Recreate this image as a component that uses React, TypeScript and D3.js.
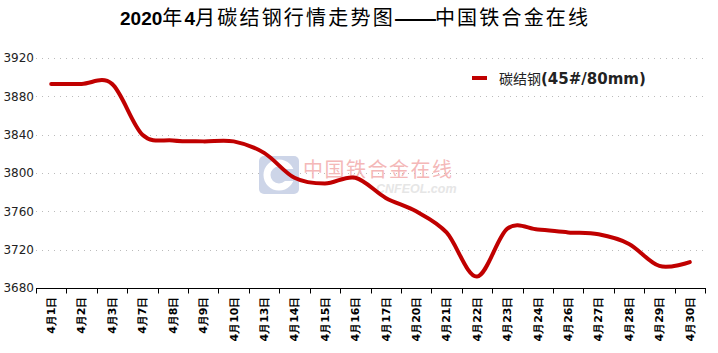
import React, { useEffect, useRef } from 'react';
import * as d3 from 'd3';

const categories = ['4月1日', '4月2日', '4月3日', '4月7日', '4月8日', '4月9日', '4月10日', '4月13日', '4月14日', '4月15日', '4月16日',
  '4月17日', '4月20日', '4月21日', '4月22日', '4月23日', '4月24日', '4月26日', '4月27日', '4月28日', '4月29日', '4月30日'];
const prices = [3893, 3893, 3893, 3840, 3834, 3833, 3833, 3821, 3795, 3789, 3795,
  3774, 3760, 3738, 3692, 3742, 3741, 3738, 3736, 3726, 3703, 3707];
const yTicks = [3680, 3720, 3760, 3800, 3840, 3880, 3920];
const seriesName = ['碳结钢', '(45#/80mm)'];
const titleParts = [
  { t: '2020', kind: 'latin' },
  { t: '年', kind: 'cjk' },
  { t: '4', kind: 'latin' },
  { t: '月碳结钢行情走势图', kind: 'cjk' },
  { t: '——', kind: 'dash' },
  { t: '中国铁合金在线', kind: 'cjk' },
];

const App = () => {
  const ref = useRef<HTMLDivElement>(null);

  useEffect(() => {
    const width = 718;
    const height = 353;
    const left = 36, right = 705, top = 58, bottom = 288;
    const font = '"DejaVu Sans", Verdana, sans-serif';
    const cjk = '"Noto Sans CJK SC", sans-serif';

    const svg = d3.select(ref.current)
      .append('svg')
      .attr('width', width)
      .attr('height', height)
      .style('display', 'block')
      .style('font-family', font);

    svg.append('rect').attr('width', width).attr('height', height).attr('fill', '#fff');

    const x = d3.scaleBand().domain(categories).range([left, right]).padding(0);
    const y = d3.scaleLinear().domain([3680, 3920]).range([bottom, top]);

    // title
    const title = svg.append('text')
      .attr('x', 120)
      .attr('y', 25)
      .attr('fill', '#000');
    titleParts.forEach((p) => {
      const s = title.append('tspan').text(p.t);
      if (p.kind === 'latin') {
        s.attr('font-family', '"Liberation Sans", Arial, sans-serif')
          .attr('font-weight', 'bold')
          .attr('font-size', '19px');
      } else if (p.kind === 'dash') {
        s.attr('font-family', '"Liberation Sans", Arial, sans-serif')
          .attr('font-weight', 'bold')
          .attr('font-size', '21px')
          .attr('letter-spacing', '-1px');
      } else {
        s.attr('font-family', cjk)
          .attr('font-size', '20px')
          .attr('letter-spacing', '2.2px');
      }
    });

    // grid
    svg.selectAll('.grid')
      .data(yTicks.slice(1))
      .enter()
      .append('line')
      .attr('x1', left)
      .attr('x2', right)
      .attr('y1', (d) => Math.round(y(d)) + 0.5)
      .attr('y2', (d) => Math.round(y(d)) + 0.5)
      .attr('stroke', '#bbb')
      .attr('stroke-width', 1)
      .attr('stroke-dasharray', '1,5');

    // y labels
    svg.selectAll('.ylab')
      .data(yTicks)
      .enter()
      .append('text')
      .attr('x', 34)
      .attr('y', (d) => y(d))
      .attr('dy', '0.35em')
      .attr('text-anchor', 'end')
      .attr('font-size', '12px')
      .attr('fill', '#222')
      .text((d) => d);

    // watermark
    const wm = svg.append('g');
    wm.append('rect')
      .attr('x', 259).attr('y', 156).attr('width', 40).attr('height', 38).attr('rx', 5)
      .attr('fill', '#cdd5e8');
    wm.append('circle')
      .attr('cx', 279).attr('cy', 175).attr('r', 12)
      .attr('fill', 'none').attr('stroke', '#fff').attr('stroke-width', 7);
    wm.append('rect')
      .attr('x', 281).attr('y', 169).attr('width', 14).attr('height', 12)
      .attr('fill', '#cdd5e8');
    wm.append('text')
      .attr('x', 303).attr('y', 177)
      .attr('font-size', '20px')
      .attr('letter-spacing', '1.5px')
      .attr('fill', '#f4b8b8')
      .attr('font-family', cjk)
      .text('中国铁合金在线');
    wm.append('text')
      .attr('x', 376).attr('y', 193)
      .attr('font-size', '12.5px')
      .attr('font-style', 'italic')
      .attr('font-weight', 'bold')
      .attr('fill', '#e6e6e6')
      .attr('font-family', 'Arial, "Liberation Sans", sans-serif')
      .text('CNFEOL.com');

    // x axis
    const xAxis = svg.append('g')
      .attr('transform', `translate(0, ${bottom + 0.5})`);
    xAxis.append('line')
      .attr('x1', left).attr('x2', right + 1)
      .attr('stroke', '#000').attr('stroke-width', 1);
    const edges = categories.map((c) => x(c) as number).concat([right]);
    xAxis.selectAll('.tick')
      .data(edges)
      .enter()
      .append('line')
      .attr('x1', (d) => Math.round(d) + 0.5)
      .attr('x2', (d) => Math.round(d) + 0.5)
      .attr('y1', 0)
      .attr('y2', 5)
      .attr('stroke', '#000');
    xAxis.selectAll('.xlab')
      .data(categories)
      .enter()
      .append('text')
      .attr('transform', (d) => `translate(${(x(d) as number) + x.bandwidth() / 2}, 8) rotate(-90)`)
      .attr('text-anchor', 'end')
      .attr('dy', '0.35em')
      .attr('font-size', '11px')
      .attr('font-weight', 'bold')
      .attr('fill', '#000')
      .text((d) => d);

    // line
    const line = d3.line<number>()
      .x((d, i) => (x(categories[i]) as number) + x.bandwidth() / 2)
      .y((d) => y(d))
      .curve(d3.curveCardinal.tension(0));

    svg.append('path')
      .datum(prices)
      .attr('d', line)
      .attr('fill', 'none')
      .attr('stroke', '#c00000')
      .attr('stroke-width', 4)
      .attr('stroke-linejoin', 'round')
      .attr('stroke-linecap', 'round');

    // legend
    svg.append('line')
      .attr('x1', 472).attr('x2', 487)
      .attr('y1', 78).attr('y2', 78)
      .attr('stroke', '#c00000')
      .attr('stroke-width', 4);
    const leg = svg.append('text')
      .attr('x', 499)
      .attr('y', 78)
      .attr('dy', '0.36em')
      .attr('fill', '#222');
    leg.append('tspan')
      .attr('font-family', cjk)
      .attr('font-size', '14px')
      .text(seriesName[0]);
    leg.append('tspan')
      .attr('font-size', '15px')
      .attr('font-weight', 'bold')
      .text(seriesName[1]);

    return () => {
      d3.select(ref.current).selectAll('svg').remove();
    };
  }, []);

  return <div ref={ref} style={{ position: 'absolute', left: 0, top: 0 }} />;
};

export default App;
